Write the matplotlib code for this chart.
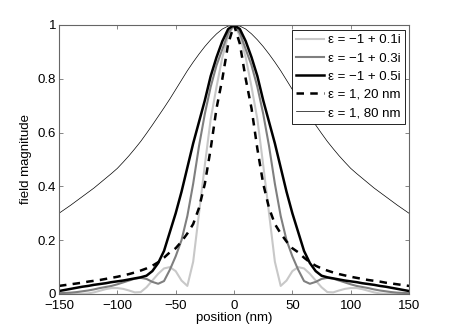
import numpy as np
import matplotlib
matplotlib.use("Agg")
import matplotlib.pyplot as plt

# half profiles (curves are symmetric about 0)
pos_half = [0, 5, 10, 15, 20, 25, 30, 35, 40, 45, 50, 55, 60, 65, 70, 75,
            80, 85, 90, 95, 100, 105, 110, 115, 120, 125, 130, 135, 140, 145, 150]

eps_01 = [1.0, 0.96, 0.88, 0.77, 0.65, 0.48, 0.30, 0.12, 0.03, 0.05, 0.085, 0.10,
          0.095, 0.075, 0.05, 0.025, 0.007, 0.006, 0.013, 0.019, 0.022, 0.022,
          0.018, 0.012, 0.006, 0.002, 0.001, 0.002, 0.003, 0.003, 0.002]
eps_03 = [1.0, 0.97, 0.91, 0.85, 0.77, 0.67, 0.55, 0.41, 0.29, 0.20, 0.14, 0.09,
          0.048, 0.038, 0.045, 0.056, 0.06, 0.057, 0.05, 0.043, 0.036, 0.03,
          0.026, 0.022, 0.017, 0.013, 0.01, 0.007, 0.005, 0.004, 0.003]
eps_05 = [1.0, 0.985, 0.94, 0.88, 0.81, 0.72, 0.64, 0.56, 0.47, 0.38, 0.30, 0.23,
          0.16, 0.115, 0.085, 0.068, 0.062, 0.058, 0.054, 0.05, 0.047, 0.044,
          0.04, 0.037, 0.034, 0.03, 0.027, 0.023, 0.019, 0.015, 0.011]
diel_20 = [1.0, 0.93, 0.80, 0.69, 0.54, 0.41, 0.32, 0.26, 0.225, 0.195, 0.17, 0.155,
           0.135, 0.118, 0.105, 0.095, 0.087, 0.08, 0.074, 0.069, 0.064, 0.06,
           0.056, 0.052, 0.049, 0.046, 0.042, 0.039, 0.036, 0.033, 0.03]
diel_80 = [1.0, 0.996, 0.985, 0.967, 0.945, 0.92, 0.892, 0.862, 0.83, 0.795, 0.76, 0.725,
           0.692, 0.66, 0.628, 0.597, 0.567, 0.54, 0.514, 0.49, 0.467, 0.448,
           0.43, 0.412, 0.394, 0.378, 0.362, 0.346, 0.33, 0.315, 0.30]

labels = ["ε = −1 + 0.1i", "ε = −1 + 0.3i", "ε = −1 + 0.5i", "ε = 1, 20 nm", "ε = 1, 80 nm"]


def mirror(v):
    v = np.asarray(v, dtype=float)
    return np.concatenate([v[:0:-1], v])


pos = np.concatenate([-np.asarray(pos_half[:0:-1], dtype=float), np.asarray(pos_half, dtype=float)])

plt.rcParams["font.family"] = ["Liberation Sans", "DejaVu Sans"]
plt.rcParams["font.size"] = 9.5

fig = plt.figure(figsize=(4.52, 3.32), dpi=100)
ax = fig.add_axes([0.1305, 0.1145, 0.7745, 0.8102])

ax.plot(pos, mirror(eps_01), color="#c8c8c8", lw=1.5, label=labels[0])
ax.plot(pos, mirror(eps_03), color="#7f7f7f", lw=1.5, label=labels[1])
ax.plot(pos, mirror(eps_05), color="black", lw=1.8, label=labels[2])
ax.plot(pos, mirror(diel_20), color="black", lw=1.8, ls=(0, (3, 2.5)), label=labels[3])
ax.plot(pos, mirror(diel_80), color="black", lw=0.5, label=labels[4])

ax.set_xlim(-150, 150)
ax.set_ylim(0, 1)
ax.set_xticks([-150, -100, -50, 0, 50, 100, 150])
ax.set_xticklabels(["−150", "−100", "−50", "0", "50", "100", "150"])
ax.set_yticks([0, 0.2, 0.4, 0.6, 0.8, 1])
ax.set_yticklabels(["0", "0.2", "0.4", "0.6", "0.8", "1"])
ax.tick_params(direction="in", top=True, right=True, length=3, width=0.5,
               color="#555555")
ax.tick_params(axis="x", pad=4.5)
ax.tick_params(axis="y", pad=2)
for s in ax.spines.values():
    s.set_color("#666666")
    s.set_linewidth(0.8)

ax.set_xlabel("position (nm)", labelpad=0)
ax.set_ylabel("field magnitude", labelpad=4)

leg = ax.legend(loc="upper right", bbox_to_anchor=(0.997, 0.993), fancybox=False,
                framealpha=1, edgecolor="black", handlelength=2.1,
                handletextpad=0.3, borderpad=0.35, labelspacing=0.45,
                borderaxespad=0.2)
leg.get_frame().set_linewidth(0.6)

fig.savefig("out.png", dpi=100)
